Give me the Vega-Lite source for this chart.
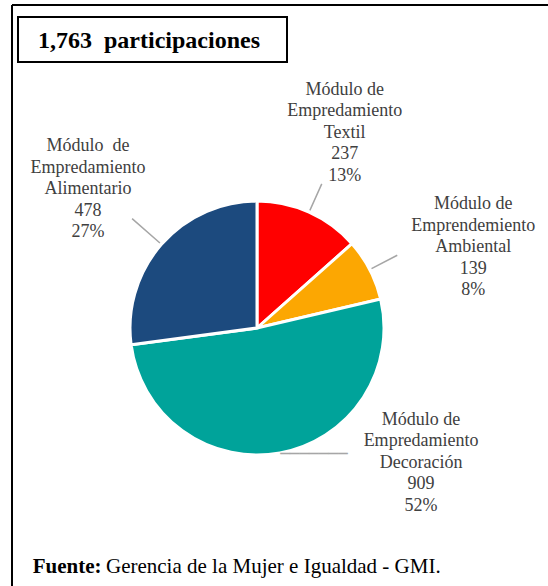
{
  "$schema": "https://vega.github.io/schema/vega-lite/v6.json",
  "width": 536,
  "height": 581,
  "autosize": {"type": "none"},
  "padding": {"left": 12, "top": 5, "right": 0, "bottom": 0},
  "background": "white",
  "config": {
    "view": {"stroke": null},
    "font": "Liberation Serif",
    "text": {"font": "Liberation Serif"}
  },
  "data": {
    "values": [
      {"modulo": "Textil", "etiqueta": "Módulo de\nEmpredamiento\nTextil", "n": 237, "orden": 1},
      {"modulo": "Ambiental", "etiqueta": "Módulo de\nEmprendemiento\nAmbiental", "n": 139, "orden": 2},
      {"modulo": "Decoración", "etiqueta": "Módulo de\nEmpredamiento\nDecoración", "n": 909, "orden": 3},
      {"modulo": "Alimentario", "etiqueta": "Módulo\u00a0 de\nEmpredamiento\nAlimentario", "n": 478, "orden": 4}
    ]
  },
  "transform": [
    {"joinaggregate": [{"op": "sum", "field": "n", "as": "total"}]},
    {"window": [{"op": "sum", "field": "n", "as": "acum"}], "sort": [{"field": "orden"}], "frame": [null, 0]},
    {"calculate": "datum.acum - datum.n / 2", "as": "mid"},
    {"calculate": "datum.etiqueta + '\\n' + datum.n + '\\n' + format(datum.n / datum.total, '.0%')", "as": "texto"}
  ],
  "layer": [
    {
      "mark": {"type": "arc", "x": 245, "y": 323, "radius": 127, "stroke": "white", "strokeWidth": 3},
      "encoding": {
        "theta": {"field": "n", "type": "quantitative", "stack": true},
        "order": {"field": "orden", "type": "quantitative"},
        "color": {
          "field": "modulo",
          "type": "nominal",
          "scale": {
            "domain": ["Textil", "Ambiental", "Decoración", "Alimentario"],
            "range": ["#FF0000", "#FCA702", "#00A39A", "#1C4A7E"]
          },
          "legend": null
        }
      }
    },
    {
      "transform": [{"filter": "datum.orden <= 2"}],
      "mark": {"type": "arc", "x": 245, "y": 323, "radius": 158, "radius2": 129, "fill": "transparent", "stroke": "#A6A6A6", "strokeWidth": 1.5},
      "encoding": {
        "theta": {"field": "mid", "type": "quantitative", "stack": null},
        "theta2": {"field": "mid"}
      }
    },
    {
      "transform": [{"filter": "datum.orden == 4"}],
      "mark": {"type": "arc", "x": 245, "y": 323, "radius": 166, "radius2": 129, "fill": "transparent", "stroke": "#A6A6A6", "strokeWidth": 1.5},
      "encoding": {
        "theta": {"field": "mid", "type": "quantitative", "stack": null},
        "theta2": {"field": "mid"}
      }
    },
    {
      "transform": [{"filter": "datum.orden == 3"}],
      "mark": {"type": "text", "x": 245, "y": 323, "radius": 128, "align": "left", "baseline": "middle", "font": "DejaVu Sans Mono", "fontSize": 16, "fill": "#A6A6A6", "text": "───────"},
      "encoding": {
        "theta": {"field": "mid", "type": "quantitative", "stack": null}
      }
    },
    {
      "transform": [{"filter": "datum.orden == 1"}],
      "mark": {"type": "text", "x": 245, "y": 323, "radius": 214, "dy": -43, "align": "center", "baseline": "middle", "font": "Liberation Serif", "fontSize": 18, "lineHeight": 21.5, "lineBreak": "\n", "fill": "#404040"},
      "encoding": {
        "theta": {"field": "mid", "type": "quantitative", "stack": null},
        "text": {"field": "texto"}
      }
    },
    {
      "transform": [{"filter": "datum.orden == 2"}],
      "mark": {"type": "text", "x": 245, "y": 323, "radius": 230, "dx": 12, "dy": -18, "align": "center", "baseline": "middle", "font": "Liberation Serif", "fontSize": 18, "lineHeight": 21.5, "lineBreak": "\n", "fill": "#404040"},
      "encoding": {
        "theta": {"field": "mid", "type": "quantitative", "stack": null},
        "text": {"field": "texto"}
      }
    },
    {
      "transform": [{"filter": "datum.orden == 3"}],
      "mark": {"type": "text", "x": 245, "y": 323, "radius": 150, "dx": 137, "dy": -56, "align": "center", "baseline": "middle", "font": "Liberation Serif", "fontSize": 18, "lineHeight": 21.5, "lineBreak": "\n", "fill": "#404040"},
      "encoding": {
        "theta": {"field": "mid", "type": "quantitative", "stack": null},
        "text": {"field": "texto"}
      }
    },
    {
      "transform": [{"filter": "datum.orden == 4"}],
      "mark": {"type": "text", "x": 245, "y": 323, "radius": 220, "dx": -3.5, "dy": -37, "align": "center", "baseline": "middle", "font": "Liberation Serif", "fontSize": 18, "lineHeight": 21.5, "lineBreak": "\n", "fill": "#404040"},
      "encoding": {
        "theta": {"field": "mid", "type": "quantitative", "stack": null},
        "text": {"field": "texto"}
      }
    },
    {
      "transform": [
        {"aggregate": [{"op": "sum", "field": "n", "as": "tot"}]},
        {"calculate": "format(datum.tot, ',') + '\u00a0 participaciones'", "as": "titulo"}
      ],
      "layer": [
        {
          "mark": {"type": "rule", "color": "black", "strokeWidth": 2},
          "encoding": {"x": {"value": 0}, "x2": {"value": 536}, "y": {"value": 0}}
        },
        {
          "mark": {"type": "rule", "color": "black", "strokeWidth": 2},
          "encoding": {"x": {"value": 0}, "y": {"value": 0}, "y2": {"value": 581}}
        },
        {
          "mark": {"type": "rect", "x": 6, "y": 12, "x2": 275, "y2": 57, "fill": "white", "stroke": "black", "strokeWidth": 2},
          "encoding": {}
        },
        {
          "mark": {"type": "text", "x": 137, "y": 43, "align": "center", "baseline": "alphabetic", "font": "Liberation Serif", "fontSize": 24, "fontWeight": "bold", "fill": "black"},
          "encoding": {"text": {"field": "titulo"}}
        }
      ]
    },
    {
      "data": {"values": [{"fuente": "Fuente:", "texto_fuente": "Gerencia de la Mujer e Igualdad - GMI."}]},
      "layer": [
        {
          "mark": {"type": "text", "x": 20.7, "y": 568, "align": "left", "baseline": "alphabetic", "font": "Liberation Serif", "fontSize": 21, "fontWeight": "bold", "fill": "black"},
          "encoding": {"text": {"field": "fuente"}}
        },
        {
          "mark": {"type": "text", "x": 94, "y": 568, "align": "left", "baseline": "alphabetic", "font": "Liberation Serif", "fontSize": 21, "fill": "black"},
          "encoding": {"text": {"field": "texto_fuente"}}
        }
      ]
    }
  ]
}
